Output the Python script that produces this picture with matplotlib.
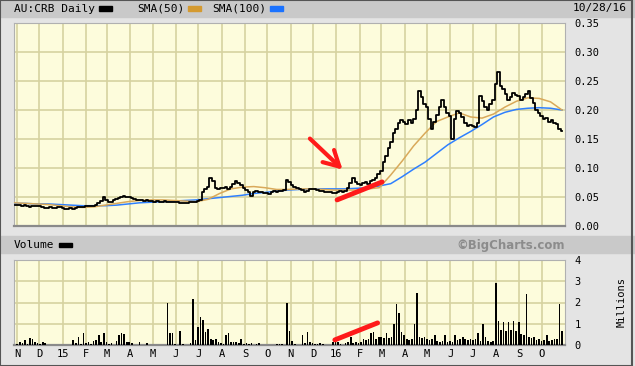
import numpy as np
import pandas as pd
import matplotlib
matplotlib.use("Agg")
import matplotlib.pyplot as plt
import matplotlib.dates as mdates
from matplotlib.patches import Rectangle

# ---- data (AU:CRB daily, 10/28/14 - 10/28/16) ----
# price, ~9 samples per month, Nov 2014 ... Oct 2016
price = [
    0.036, 0.037, 0.036, 0.035, 0.036, 0.034, 0.033, 0.034, 0.035,   # Nov 14
    0.035, 0.034, 0.032, 0.031, 0.031, 0.032, 0.031, 0.031, 0.033,   # Dec
    0.032, 0.031, 0.030, 0.030, 0.031, 0.030, 0.031, 0.033, 0.033,   # Jan 15
    0.033, 0.034, 0.034, 0.035, 0.034, 0.036, 0.040, 0.043, 0.050,   # Feb
    0.045, 0.042, 0.041, 0.044, 0.046, 0.049, 0.050, 0.051, 0.050,   # Mar
    0.050, 0.049, 0.047, 0.045, 0.044, 0.044, 0.043, 0.044, 0.043,   # Apr
    0.043, 0.042, 0.043, 0.042, 0.042, 0.043, 0.042, 0.041, 0.042,   # May
    0.042, 0.041, 0.040, 0.039, 0.039, 0.040, 0.041, 0.041, 0.042,   # Jun
    0.043, 0.045, 0.058, 0.063, 0.068, 0.082, 0.078, 0.066, 0.063,   # Jul
    0.066, 0.065, 0.067, 0.064, 0.068, 0.072, 0.078, 0.075, 0.070,   # Aug
    0.066, 0.062, 0.058, 0.052, 0.058, 0.060, 0.059, 0.058, 0.057,   # Sep
    0.057, 0.056, 0.058, 0.060, 0.059, 0.061, 0.060, 0.062, 0.080,   # Oct
    0.076, 0.070, 0.067, 0.066, 0.063, 0.062, 0.058, 0.060, 0.063,   # Nov
    0.063, 0.064, 0.062, 0.061, 0.060, 0.059, 0.058, 0.058, 0.057,   # Dec
    0.057, 0.058, 0.060, 0.059, 0.061, 0.066, 0.074, 0.082, 0.076,   # Jan 16
    0.072, 0.070, 0.074, 0.076, 0.073, 0.077, 0.080, 0.082, 0.090,   # Feb
    0.095, 0.110, 0.120, 0.135, 0.145, 0.160, 0.168, 0.178, 0.182,   # Mar
    0.180, 0.176, 0.182, 0.178, 0.185, 0.200, 0.232, 0.222, 0.210,   # Apr
    0.205, 0.185, 0.168, 0.180, 0.192, 0.205, 0.218, 0.205, 0.195,   # May
    0.190, 0.150, 0.185, 0.198, 0.195, 0.188, 0.178, 0.172, 0.175,   # Jun
    0.172, 0.170, 0.178, 0.225, 0.215, 0.205, 0.200, 0.210, 0.218,   # Jul
    0.245, 0.265, 0.242, 0.236, 0.228, 0.218, 0.222, 0.230, 0.226,   # Aug
    0.224, 0.218, 0.222, 0.228, 0.232, 0.220, 0.212, 0.200, 0.195,   # Sep
    0.190, 0.184, 0.186, 0.180, 0.182, 0.178, 0.176, 0.168, 0.163,   # Oct
]

# volume in millions, same sampling
volume = [
    0.02, 0.05, 0.15, 0.10, 0.25, 0.05, 0.32, 0.28, 0.15,
    0.10, 0.05, 0.12, 0.08, 0.02, 0.00, 0.00, 0.00, 0.00,
    0.00, 0.00, 0.00, 0.00, 0.02, 0.25, 0.08, 0.40, 0.05,
    0.55, 0.10, 0.15, 0.05, 0.20, 0.25, 0.45, 0.15, 0.55,
    0.15, 0.05, 0.10, 0.02, 0.20, 0.45, 0.55, 0.50, 0.12,
    0.12, 0.10, 0.00, 0.00, 0.15, 0.00, 0.00, 0.08, 0.00,
    0.00, 0.00, 0.00, 0.00, 0.00, 0.00, 2.00, 0.55, 0.55,
    0.05, 0.00, 0.65, 0.05, 0.00, 0.00, 0.08, 2.15, 0.25,
    0.85, 1.30, 1.20, 0.60, 0.75, 0.30, 0.25, 0.30, 0.15,
    0.10, 0.05, 0.45, 0.58, 0.15, 0.12, 0.15, 0.10, 0.27,
    0.05, 0.08, 0.05, 0.08, 0.00, 0.05, 0.08, 0.00, 0.00,
    0.00, 0.00, 0.00, 0.00, 0.05, 0.05, 0.05, 0.00, 2.00,
    0.65, 0.20, 0.05, 0.00, 0.00, 0.45, 0.10, 0.63, 0.15,
    0.10, 0.05, 0.05, 0.08, 0.05, 0.00, 0.00, 0.00, 0.15,
    0.20, 0.15, 0.05, 0.00, 0.10, 0.12, 0.40, 0.08, 0.15,
    0.10, 0.15, 0.30, 0.25, 0.30, 0.55, 0.62, 0.30, 0.40,
    0.40, 0.35, 0.58, 0.35, 0.40, 1.00, 1.95, 1.50, 0.63,
    0.47, 0.30, 0.25, 0.30, 1.00, 2.45, 0.40, 0.35, 0.40,
    0.30, 0.25, 0.30, 0.47, 0.20, 0.15, 0.20, 0.47, 0.15,
    0.20, 0.15, 0.47, 0.25, 0.28, 0.40, 0.28, 0.25, 0.30,
    0.25, 0.30, 0.55, 0.20, 0.97, 0.40, 0.20, 0.15, 0.20,
    2.90, 1.13, 0.70, 1.10, 0.65, 1.10, 0.70, 1.15, 0.65,
    1.10, 0.50, 0.45, 2.40, 0.40, 0.35, 0.40, 0.25, 0.30,
    0.20, 0.25, 0.45, 0.20, 0.25, 0.30, 0.30, 1.95, 0.66,
]

# moving averages, two readings per month
sma50 = [0.040, 0.039, 0.038, 0.037, 0.035, 0.033, 0.032, 0.033, 0.036, 0.039,
         0.042, 0.044, 0.045, 0.045, 0.044, 0.043, 0.042, 0.046, 0.056, 0.064,
         0.067, 0.068, 0.066, 0.063, 0.063, 0.064, 0.064, 0.063, 0.062, 0.062,
         0.062, 0.064, 0.066, 0.088, 0.112, 0.138, 0.160, 0.180, 0.188, 0.195,
         0.188, 0.186, 0.193, 0.205, 0.215, 0.221, 0.220, 0.214, 0.200]
sma100 = [0.039, 0.039, 0.038, 0.038, 0.037, 0.036, 0.035, 0.035, 0.035, 0.036,
          0.038, 0.040, 0.041, 0.042, 0.043, 0.044, 0.045, 0.047, 0.049, 0.051,
          0.053, 0.056, 0.058, 0.060, 0.062, 0.063, 0.064, 0.064, 0.064, 0.064,
          0.065, 0.066, 0.069, 0.073, 0.085, 0.098, 0.110, 0.125, 0.140, 0.152,
          0.163, 0.175, 0.188, 0.196, 0.201, 0.203, 0.204, 0.203, 0.200]

month_labels = ["N", "D", "15", "F", "M", "A", "M", "J", "J", "A", "S", "O",
                "N", "D", "16", "F", "M", "A", "M", "J", "J", "A", "S", "O"]
price_ticks = [0.00, 0.05, 0.10, 0.15, 0.20, 0.25, 0.30, 0.35]
vol_ticks = [0, 1, 2, 3, 4]

# red marks drawn on the chart (date, value)
arrow_tail = ("2015-11-24", 0.154)
arrow_tip = ("2016-01-12", 0.094)
price_stroke = [("2016-01-02", 0.045), ("2016-03-02", 0.076)]
vol_stroke = [("2015-12-30", 0.24), ("2016-02-25", 1.04)]

dates = pd.date_range("2014-10-29", "2016-10-28", periods=len(price))
sma_dates = pd.date_range("2014-10-28", "2016-10-28", periods=len(sma50))
months = pd.date_range("2014-11-01", periods=len(month_labels), freq="MS")
x0, x1 = pd.Timestamp("2014-10-28"), pd.Timestamp("2016-11-01")

W, H = 635, 366
BG = "#e4e4e4"
BAR = "#c9c9c9"
PLOT = "#fdfcdc"
GRID = "#d6d2a0"
ORANGE = "#d9a95a"
BLUE = "#2f80ff"
RED = "#ff1a1a"
mono = "DejaVu Sans Mono"

fig = plt.figure(figsize=(W / 100, H / 100), dpi=100, facecolor=BG)

def fx(px):
    return px / W

def fy(py):
    return 1 - py / H

# header bars
fig.patches.append(Rectangle((0, fy(17)), 1, 17 / H, transform=fig.transFigure,
                             color=BAR, zorder=0))
fig.patches.append(Rectangle((0, fy(253)), 1, 17 / H, transform=fig.transFigure,
                             color=BAR, zorder=0))

ax = fig.add_axes([fx(14), fy(226), fx(551), 203 / H])
axv = fig.add_axes([fx(14), fy(345), fx(551), 85 / H])

for a in (ax, axv):
    a.set_facecolor(PLOT)
    a.set_xlim(x0, x1)
    a.set_xticks(months)
    a.grid(True, color=GRID, lw=1.2)
    a.set_axisbelow(True)
    a.yaxis.tick_right()
    a.tick_params(length=0, labelsize=7.5, pad=7)
    for s in a.spines.values():
        s.set_color("#b0b0b0")
        s.set_linewidth(0.8)
    a.spines["bottom"].set_color("#8a8a8a")
    a.spines["bottom"].set_linewidth(1.6)

# price panel
ax.plot(sma_dates, sma100, color=BLUE, lw=1.1, zorder=3)
ax.plot(sma_dates, sma50, color=ORANGE, lw=1.1, zorder=3)
ax.plot(dates, price, color="black", lw=1.3, drawstyle="steps-mid", zorder=4)
ax.set_ylim(0, 0.35)
ax.set_yticks(price_ticks)
ax.set_yticklabels(["%.2f" % v for v in price_ticks], family=mono)
ax.set_xticklabels([])

ax.annotate("", xy=(pd.Timestamp(arrow_tip[0]), arrow_tip[1]),
            xytext=(pd.Timestamp(arrow_tail[0]), arrow_tail[1]),
            arrowprops=dict(arrowstyle="->,head_length=1.1,head_width=0.6",
                            color=RED, lw=3), zorder=6)
ax.plot([pd.Timestamp(d) for d, v in price_stroke], [v for d, v in price_stroke],
        color=RED, lw=3.5, solid_capstyle="round", zorder=6)

# volume panel
axv.bar(dates, volume, width=2.2, color="black", zorder=3)
axv.set_ylim(0, 4)
axv.set_yticks(vol_ticks)
axv.set_yticklabels([str(v) for v in vol_ticks], family=mono)
axv.set_xticklabels(month_labels, family=mono, fontsize=7.5)
axv.tick_params(axis="x", pad=3)
axv.plot([pd.Timestamp(d) for d, v in vol_stroke], [v for d, v in vol_stroke],
         color=RED, lw=3.5, solid_capstyle="round", zorder=6)

# header texts and legend swatches
fig.text(fx(14), fy(8.5), "AU:CRB Daily", family=mono, fontsize=8, va="center")
fig.text(fx(137), fy(8.5), "SMA(50)", family=mono, fontsize=8, va="center")
fig.text(fx(212), fy(8.5), "SMA(100)", family=mono, fontsize=8, va="center")
fig.text(fx(627), fy(8.5), "10/28/16", family=mono, fontsize=8, va="center", ha="right")
for left, col in ((99, "black"), (188, "#d49a30"), (270, "#1a72ff")):
    fig.patches.append(Rectangle((fx(left), fy(10.5)), fx(13), 4 / H,
                                 transform=fig.transFigure, color=col))
fig.text(fx(14), fy(245), "Volume", family=mono, fontsize=8, va="center")
fig.patches.append(Rectangle((fx(59), fy(247)), fx(13), 4 / H,
                             transform=fig.transFigure, color="black"))
fig.text(fx(565), fy(245), "\u00a9BigCharts.com", fontsize=8.5, weight="bold",
         color="#8c8c8c", va="center", ha="right")
fig.text(fx(622), fy(302), "Millions", family=mono, fontsize=7.5, rotation=90,
         va="center", ha="center")

# outer frame
fig.patches.append(Rectangle((0, 0), 1 - 3 / W, 1, transform=fig.transFigure,
                             fill=False, ec="#555555", lw=1.5))

fig.savefig("out.png", dpi=100, facecolor=BG)
